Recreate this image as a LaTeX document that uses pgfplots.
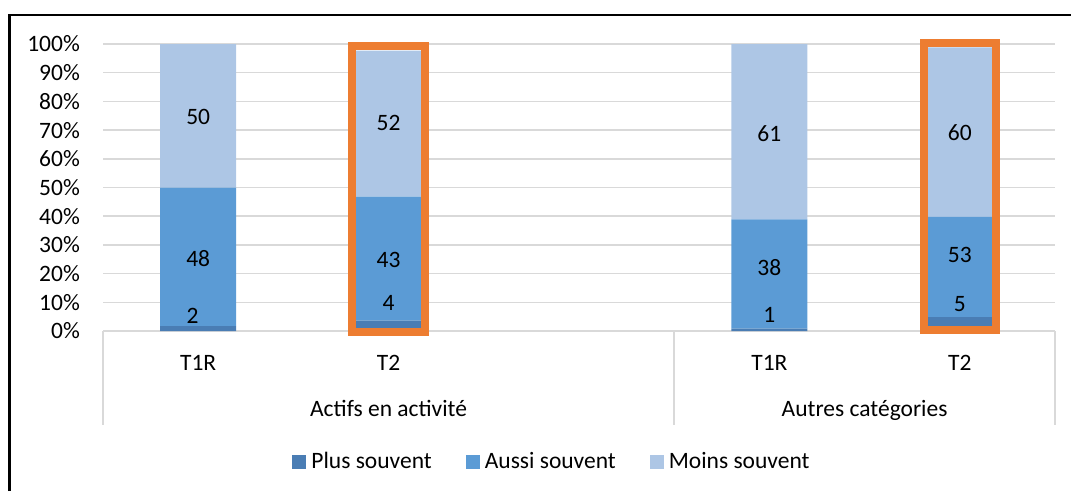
\documentclass[border=0pt]{standalone}
\usepackage{pgfplots}
\pgfplotsset{compat=1.18}
\usepackage{fontspec}
\setmainfont{Carlito}
\definecolor{cPlus}{HTML}{4A7DB4}
\definecolor{cAussi}{HTML}{5B9BD5}
\definecolor{cMoins}{HTML}{ADC6E5}
\definecolor{cOrange}{HTML}{ED7D31}
\definecolor{cGrid}{HTML}{D9D9D9}
\pgfplotsset{sqlegend/.style={legend image code/.code={\fill[##1] (0pt,-7pt) rectangle (14pt,7pt); \path (19pt,0pt);}}}
\begin{document}
\fontsize{23.5}{28}\selectfont
\begin{tikzpicture}[font=\fontsize{23.5}{28}\selectfont]
\useasboundingbox (0,0) rectangle (1071pt,-491pt);
\draw[black, line width=2.5pt] (9.5pt,-491pt) -- (9.5pt,-15pt) -- (1071pt,-15pt);
\begin{axis}[
  at={(103pt,-331pt)}, anchor=south west,
  scale only axis, width=952pt, height=287pt,
  xmin=-0.5, xmax=4.5, ymin=0, ymax=100,
  ybar stacked, bar width=76pt,
  axis line style={draw=none},
  major tick length=0pt,
  ytick={0,10,...,100},
  yticklabels={0\%,10\%,20\%,30\%,40\%,50\%,60\%,70\%,80\%,90\%,100\%},
  yticklabel style={anchor=east, inner sep=0pt, xshift=-23pt},
  xtick={0,1,3,4},
  xticklabels={T1R,T2,T1R,T2},
  xticklabel style={anchor=base, inner sep=0pt, yshift=-39.7pt},
  ymajorgrids, grid style={cGrid, line width=1.5pt},
  clip=false,
  legend columns=3,
  legend cell align=left,
  legend style={at={(0.4706,-0.4564)}, anchor=center, draw=none, fill=none, inner sep=0pt,
    nodes={inner sep=0pt},
    /tikz/every even column/.append style={column sep=34pt}},
]
\addplot[fill=cPlus, draw=none, sqlegend] coordinates {(0,1.7) (1,3.6) (3,0.8) (4,4.8)};
\addlegendentry{Plus souvent}
\addplot[fill=cAussi, draw=none, sqlegend] coordinates {(0,48.3) (1,43.2) (3,38.1) (4,35.0)};
\addlegendentry{Aussi souvent}
\addplot[fill=cMoins, draw=none, sqlegend] coordinates {(0,50.0) (1,50.9) (3,61.1) (4,59.0)};
\addlegendentry{Moins souvent}
\draw[cGrid, line width=1.5pt] (axis cs:-0.5,0) -- ++(0pt,-94pt);
\draw[cGrid, line width=1.5pt] (axis cs:2.5,0) -- ++(0pt,-94pt);
\draw[cGrid, line width=1.5pt] (axis cs:4.5,0) -- ++(0pt,-94pt);
\node[anchor=base, inner sep=0pt] at (axis cs:1,0) [yshift=-85.5pt] {Actifs en activité};
\node[anchor=base, inner sep=0pt] at (axis cs:3.5,0) [yshift=-85.5pt] {Autres catégories};
\end{axis}
\begin{axis}[
  at={(103pt,-331pt)}, anchor=south west,
  scale only axis, width=952pt, height=287pt,
  xmin=-0.5, xmax=4.5, ymin=0, ymax=100,
  hide axis, clip=false,
]
\draw[cOrange, line width=8pt] (axis cs:0.81,-0.35) rectangle (axis cs:1.19,99.2);
\draw[cOrange, line width=8pt] (axis cs:3.81,0.35) rectangle (axis cs:4.19,100.2);
\addplot[draw=none, mark=none, nodes near coords, point meta=explicit symbolic,
  every node near coord/.append style={anchor=center, inner sep=0pt, text=black}]
  table[meta=lab] {
x y lab
-0.03 5.2 2
0 25.4 48
0 74.6 50
1 9.6 4
1 24.7 43
1 72.4 52
3 5.6 1
3 22.2 38
3 68.9 61
4 9.4 5
4 26.4 53
4 69.2 60
};
\end{axis}
\end{tikzpicture}
\end{document}
